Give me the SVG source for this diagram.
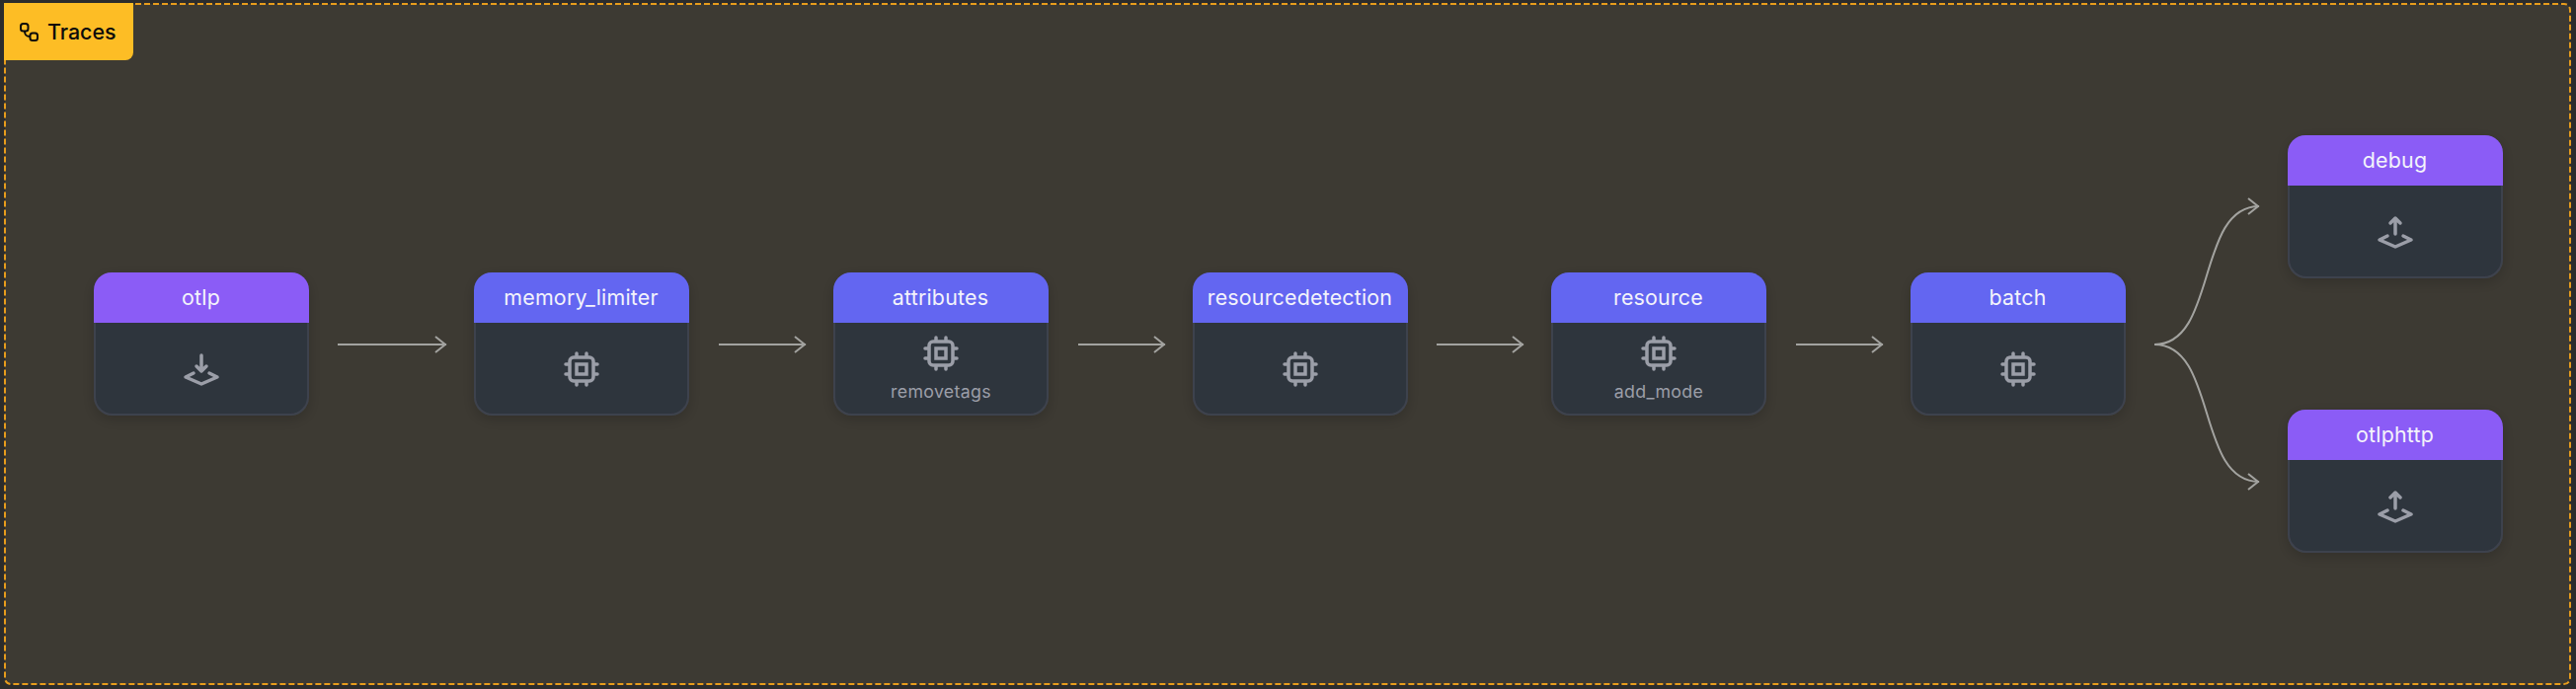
<svg xmlns="http://www.w3.org/2000/svg" width="2609" height="698" viewBox="0 0 2609 698">
<style>
text{font-family:Inter,"Liberation Sans",sans-serif}
.title{font-size:21.4px;fill:#f3f3fb;text-anchor:middle;letter-spacing:.2px}
.sub{font-size:17.8px;fill:#9b9ea8;text-anchor:middle;letter-spacing:.3px}
.body{fill:#2f343d;stroke:#3e434d;stroke-width:2}
.recv{fill:#8b5cf6}.proc{fill:#6366f1}
.ic{fill:none;stroke:#9b9ea8;stroke-width:3.500px;stroke-linecap:round;stroke-linejoin:round}
.edge{fill:none;stroke:#a3a3a0;stroke-width:2;marker-end:url(#a)}
</style>
<defs>
<marker id="a" markerUnits="userSpaceOnUse" markerWidth="24" markerHeight="24" refX="22" refY="12" orient="auto"><path d="M11 4L21 12L11 20" fill="none" stroke="#a3a3a0" stroke-width="2"/></marker>
<filter id="s" x="-20%" y="-20%" width="140%" height="140%"><feDropShadow dx="0" dy="4" stdDeviation="7" flood-color="#000" flood-opacity=".18"/></filter>
<g id="cpu"><rect x="-12" y="-12" width="24" height="24" rx="4" class="ic"/><rect x="-5" y="-5" width="10" height="10" class="ic" style="stroke-linejoin:miter"/><path class="ic" d="M-5-16v3M5-16v3M-5 13v3M5 13v3M-16-5h3M-16 5h3M13-5h3M13 5h3"/></g>
<g id="in"><path class="ic" d="M0-14V2M-5-3L0 2L5-3M-8 4L-16 8L0 15L16 8L8 4"/></g>
<g id="out"><path class="ic" d="M0 2V-14M-5-9L0-14L5-9M-8 4L-16 8L0 15L16 8L8 4"/></g>
<g id="nodebox"><rect x="1" y="1" width="216" height="143" rx="18" class="body" filter="url(#s)"/></g>
<path id="hd" d="M0 51V18A18 18 0 0 1 18 0H200A18 18 0 0 1 218 18V51Z"/>
</defs>
<rect width="2609" height="698" fill="#2c2c2c"/>
<rect x="5" y="4" width="2598" height="689" rx="6" fill="#3d3a33" stroke="#e79c1c" stroke-width="2" stroke-dasharray="6 3"/>
<g id="group-label">
<path d="M4 3H135V53A8 8 0 0 1 127 61H4Z" fill="#fdbd25"/>
<g fill="none" stroke="#0b0b0b" stroke-width="2"><rect x="21" y="24" width="7.500" height="7.500" rx="2.500"/><rect x="30.500" y="33.500" width="7.500" height="7.500" rx="2.500"/><path d="M25 31.500C25 36 27 37 30.500 37"/></g>
<text x="48" y="40" font-size="21.4" font-weight="500" fill="#0b0b0b">Traces</text>
</g>
<g id="connectors">
<path class="edge" d="M342 349H452"/>
<path class="edge" d="M728 349H816"/>
<path class="edge" d="M1092 349H1180"/>
<path class="edge" d="M1455 349H1543"/>
<path class="edge" d="M1819 349H1907"/>
<path class="edge" d="M2182 349C2246 349 2224 209 2288 209"/>
<path class="edge" d="M2182 349C2246 349 2224 488 2288 488"/>
</g>
<g id="otlp" transform="translate(95 276)"><use href="#nodebox"/><use href="#hd" class="recv"/><text x="108.500" y="33" class="title">otlp</text><use href="#in" x="109" y="98"/></g>
<g id="memory_limiter" transform="translate(480 276)"><use href="#nodebox"/><use href="#hd" class="proc"/><text x="108.500" y="33" class="title">memory_limiter</text><use href="#cpu" x="109" y="98"/></g>
<g id="attributes" transform="translate(844 276)"><use href="#nodebox"/><use href="#hd" class="proc"/><text x="108.500" y="33" class="title">attributes</text><use href="#cpu" x="109" y="82"/><text x="109" y="127" class="sub">removetags</text></g>
<g id="resourcedetection" transform="translate(1208 276)"><use href="#nodebox"/><use href="#hd" class="proc"/><text x="108.500" y="33" class="title">resourcedetection</text><use href="#cpu" x="109" y="98"/></g>
<g id="resource" transform="translate(1571 276)"><use href="#nodebox"/><use href="#hd" class="proc"/><text x="108.500" y="33" class="title">resource</text><use href="#cpu" x="109" y="82"/><text x="109" y="127" class="sub">add_mode</text></g>
<g id="batch" transform="translate(1935 276)"><use href="#nodebox"/><use href="#hd" class="proc"/><text x="108.500" y="33" class="title">batch</text><use href="#cpu" x="109" y="98"/></g>
<g id="debug" transform="translate(2317 137)"><use href="#nodebox"/><use href="#hd" class="recv"/><text x="108.500" y="33" class="title">debug</text><use href="#out" x="109" y="98"/></g>
<g id="otlphttp" transform="translate(2317 415)"><use href="#nodebox"/><use href="#hd" class="recv"/><text x="108.500" y="33" class="title">otlphttp</text><use href="#out" x="109" y="98"/></g>
</svg>
